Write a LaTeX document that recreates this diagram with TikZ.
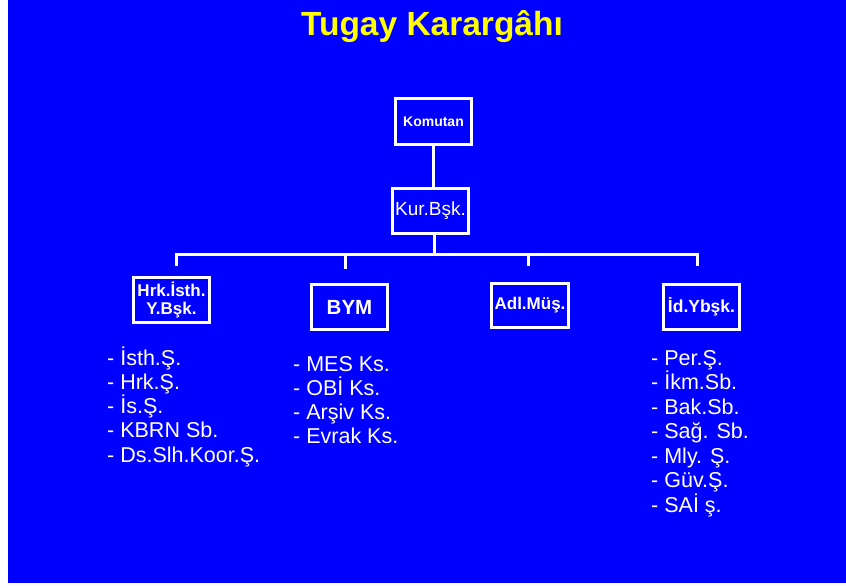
\documentclass[tikz,border=0pt]{standalone}
\usepackage{fontspec}
\setmainfont{Liberation Sans}
\definecolor{slideblue}{RGB}{0,0,255}
\definecolor{titleyellow}{RGB}{255,255,0}
\begin{document}
\begin{tikzpicture}[x=1pt,y=-1pt,
  unitbox/.style={draw=white, line width=3pt, inner sep=0pt, text=white,
    minimum width=76pt, minimum height=45pt, align=center},
  link/.style={draw=white, line width=3pt},
  item/.style={text=white, anchor=base west, inner sep=0pt,
    font=\fontsize{21.5}{24}\selectfont}]
  % page and slide background
  \fill[white] (0,0) rectangle (846,588);
  \fill[slideblue] (8,0) rectangle (846,583);
  \useasboundingbox (0,0) rectangle (846,588);

  % title
  \node[text=titleyellow, anchor=base, inner sep=0pt,
    font=\bfseries\fontsize{33.5}{36}\selectfont] (title) at (432,36) {Tugay Karargâhı};

  % command boxes
  \node[unitbox, minimum height=46pt, font=\bfseries\fontsize{14}{16}\selectfont]
    (kom) at (433.5,121.5) {Komutan};
  \node[unitbox, font=\fontsize{19}{21}\selectfont] (kur) at (430.5,211) {Kur.Bşk.};

  % staff boxes
  \node[unitbox, font=\bfseries\fontsize{17}{18}\selectfont] (hrk) at (171.5,300) {Hrk.İsth.\\Y.Bşk.};
  \node[unitbox, font=\bfseries\fontsize{20.5}{22}\selectfont] (bym) at (349.5,307) {BYM};
  \node[unitbox, minimum width=77pt, minimum height=44pt, font=\bfseries\fontsize{17}{18}\selectfont]
    (adl) at (530,305.5) {Adl.Müş.};
  \node[unitbox, font=\bfseries\fontsize{17.5}{18}\selectfont] (idy) at (701.5,307) {İd.Ybşk.};

  % branch bus and drop ends
  \coordinate (b1) at (176,254);
  \coordinate (b2) at (345,254);
  \coordinate (b3) at (528,254);
  \coordinate (b4) at (697,254);
  \coordinate (d1) at (176,266);
  \coordinate (d2) at (345,269);
  \coordinate (d3) at (528,266);
  \coordinate (d4) at (697,266);

  \draw[link] (kom.south) -- (kom.south |- kur.north);
  \draw[link] (434,234) coordinate (kb) -- (kb |- b1);
  \draw[link, line join=miter] (d1) -- (b1) -- (b4) -- (d4);
  \draw[link] (b2) -- (d2);
  \draw[link] (b3) -- (d3);

  % left list
  \foreach \t [count=\i] in {İsth.Ş., Hrk.Ş., İs.Ş., KBRN Sb., Ds.Slh.Koor.Ş.}
    \node[item] (hl\i) at (107,{365+24.3*(\i-1)}) {- \t};

  % middle list
  \foreach \t [count=\i] in {MES Ks., OBİ Ks., Arşiv Ks., Evrak Ks.}
    \node[item] (bl\i) at (293,{371+24.3*(\i-1)}) {- \t};

  % right list
  \foreach \t [count=\i] in {Per.Ş., İkm.Sb., Bak.Sb., Sağ. Sb., Mly. Ş., Güv.Ş., SAİ ş.}
    \node[item] (il\i) at (651,{365+24.5*(\i-1)}) {- \t};
\end{tikzpicture}
\end{document}
